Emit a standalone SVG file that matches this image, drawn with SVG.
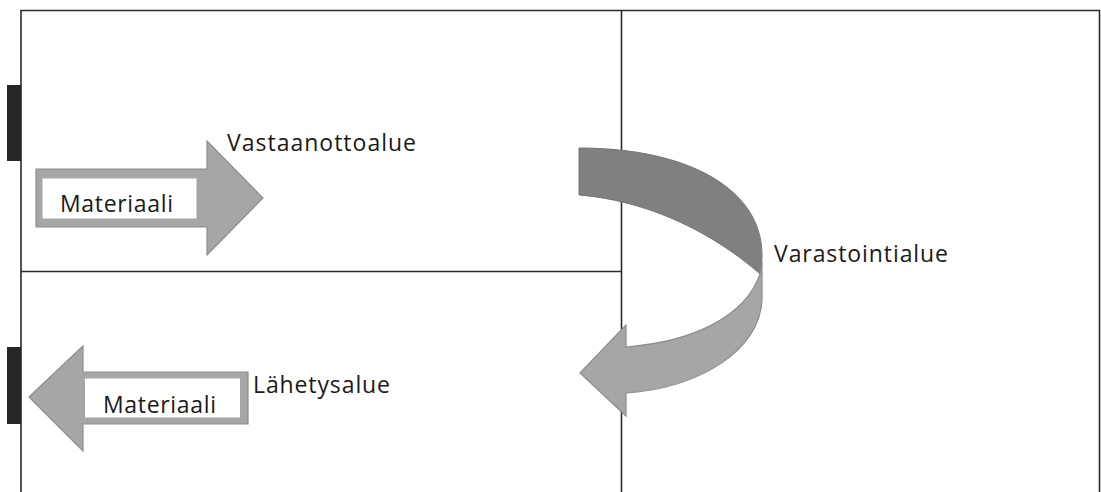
<svg xmlns="http://www.w3.org/2000/svg" width="1101" height="492" viewBox="0 0 1101 492">
  <style>
    .wall { stroke: #2b2b2b; stroke-width: 1.6; fill: none; }
    .door { fill: #262626; }
    .flow { fill: #a6a6a6; stroke: #8e8e8e; stroke-width: 1.2; }
    .flow-dark { fill: #808080; stroke: #767676; stroke-width: 1; }
    .tag { fill: #ffffff; }
    .label { font-family: "Open Sans", "Liberation Sans", sans-serif; font-size: 23px; fill: #1a1a1a; }
  </style>
  <rect width="1101" height="492" fill="#ffffff"/>

  <!-- floor plan walls -->
  <g id="walls">
    <path class="wall" d="M21,492 V10.5 H1099.5 V492"/>
    <path class="wall" d="M621.5,10.5 V492"/>
    <path class="wall" d="M21,271.5 H621.5"/>
  </g>

  <!-- loading doors -->
  <g id="doors">
    <rect class="door" x="7" y="85" width="14" height="76"/>
    <rect class="door" x="7" y="347" width="14" height="77"/>
  </g>

  <!-- area labels -->
  <g id="area-receiving">
    <text class="label" x="227" y="151" textLength="189">Vastaanottoalue</text>
  </g>
  <g id="area-storage">
    <text class="label" x="774" y="262" textLength="174">Varastointialue</text>
  </g>
  <g id="area-shipping">
    <text class="label" x="253" y="393" textLength="137">Lähetysalue</text>
  </g>

  <!-- material flow arrows -->
  <g id="flows">
    <g id="material-in">
      <polygon class="flow" points="36,169 207,169 207,141 263,198 207,255 207,227 36,227"/>
      <rect class="tag" x="42.5" y="178.5" width="154" height="40"/>
      <text class="label" x="60" y="212" textLength="113">Materiaali</text>
    </g>
    <g id="storage-turn">
      <!-- upper half of the turning band (far side, darker) -->
      <path class="flow-dark" d="M579,148 C690,148 762,190 762,255 C762,264 761,270 760,274 C742,258 675,203 579,195 Z"/>
      <!-- lower half with the arrowhead (near side, lighter) -->
      <path class="flow" d="M760,274 C761,270 762,268 762,262 L762,300 C760,350 700,388 626,393 L626,416 L580,373 L626,325 L626,347 C690,342 745,318 760,274 Z"/>
    </g>
    <g id="material-out">
      <polygon class="flow" points="29,397 83,346 83,372 248,372 248,424 83,424 83,451"/>
      <rect class="tag" x="85" y="378.5" width="155" height="39"/>
      <text class="label" x="103" y="413" textLength="113">Materiaali</text>
    </g>
  </g>
</svg>
